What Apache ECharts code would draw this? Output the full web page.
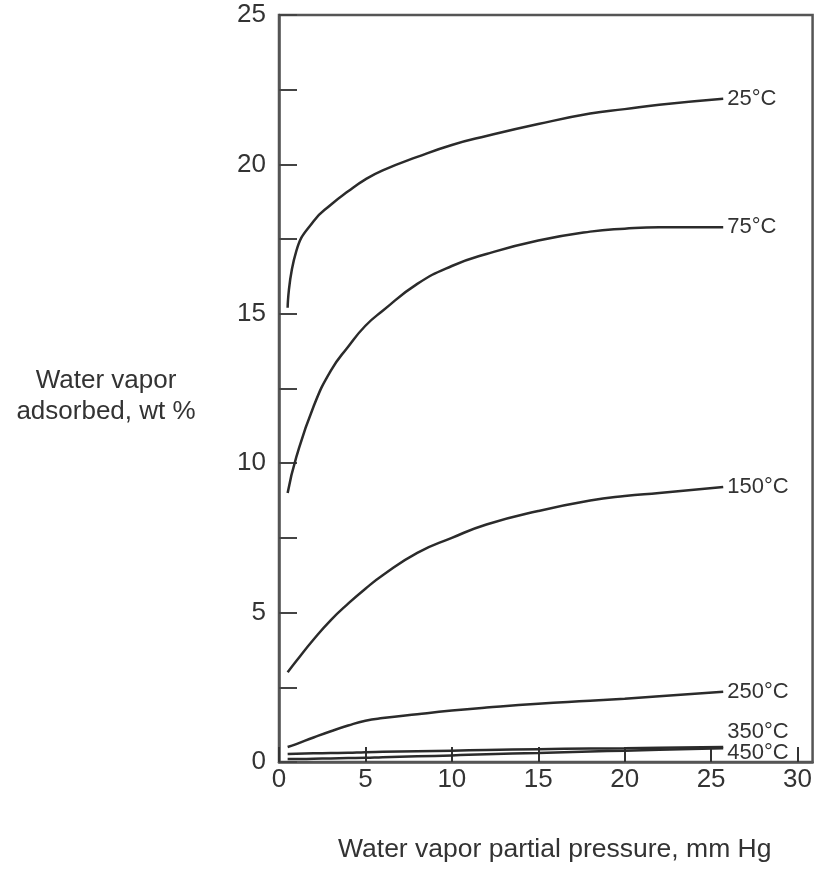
<!DOCTYPE html>
<html>
<head>
<meta charset="utf-8">
<title>Water vapor adsorption isotherms</title>
<script src="https://cdn.jsdelivr.net/npm/echarts@6/dist/echarts.min.js"></script>
<style>
  html, body { margin: 0; padding: 0; background: #fff; }
  #chart { width: 815px; height: 869px; }
</style>
</head>
<body>
<div id="chart"></div>
<script>
// Partial pressure of water vapor, mm Hg (shared x values for every isotherm)
const pressure = [0.5, 1, 2, 3, 4, 5, 6, 8, 10, 12, 15, 18, 20, 22, 25.7];

// Water vapor adsorbed, wt %, one isotherm per temperature
const adsorbed25 = [15.2, 17.1, 18.1, 18.65, 19.1, 19.5, 19.8, 20.25, 20.65, 20.95, 21.35, 21.7, 21.85, 22.0, 22.2];
const adsorbed75 = [9.0, 10.2, 11.9, 13.1, 13.9, 14.6, 15.1, 16.0, 16.6, 17.0, 17.45, 17.75, 17.85, 17.9, 17.9];
const adsorbed150 = [3.0, 3.38, 4.1, 4.75, 5.3, 5.8, 6.25, 7.0, 7.5, 7.95, 8.4, 8.75, 8.9, 9.0, 9.2];
const adsorbed250 = [0.5, 0.6, 0.82, 1.03, 1.22, 1.38, 1.47, 1.6, 1.72, 1.82, 1.95, 2.05, 2.12, 2.2, 2.35];
const adsorbed350 = [0.27, 0.28, 0.29, 0.3, 0.31, 0.33, 0.34, 0.36, 0.38, 0.4, 0.43, 0.45, 0.46, 0.48, 0.5];
const adsorbed450 = [0.1, 0.1, 0.11, 0.12, 0.13, 0.14, 0.16, 0.19, 0.22, 0.26, 0.3, 0.35, 0.38, 0.41, 0.46];

const curveLabels = ['25°C', '75°C', '150°C', '250°C', '350°C', '450°C'];
const curveValues = [adsorbed25, adsorbed75, adsorbed150, adsorbed250, adsorbed350, adsorbed450];
// vertical nudge of each end label, px
const labelShift = [0, 0, 0, 0, -15, 5];

const FONT = '"Liberation Sans", Arial, Helvetica, sans-serif';
const INK = '#2b2b2b';
const FRAME = '#555555';

const series = curveValues.map((vals, i) => ({
  type: 'line',
  name: curveLabels[i],
  data: pressure.map((p, k) => [p, vals[k]]),
  smooth: 0.5,
  showSymbol: false,
  symbol: 'none',
  lineStyle: { color: INK, width: 2.5 },
  z: 3,
  endLabel: {
    show: true,
    formatter: curveLabels[i],
    color: '#333',
    fontFamily: FONT,
    fontSize: 22,
    distance: 4,
    offset: [0, labelShift[i]]
  },
  emphasis: { disabled: true }
}));

const chart = echarts.init(document.getElementById('chart'), null, { renderer: 'canvas' });
chart.setOption({
  animation: false,
  backgroundColor: '#ffffff',
  grid: {
    left: 279, top: 15, right: 2, bottom: 107,
    show: true, borderColor: FRAME, borderWidth: 2.5, backgroundColor: 'transparent'
  },
  xAxis: {
    type: 'value',
    min: 0, max: 30.87, interval: 5,
    splitLine: { show: false },
    axisLine: { show: true, lineStyle: { color: FRAME, width: 2.5 } },
    axisTick: { show: true, inside: true, length: 15, lineStyle: { color: '#333', width: 2 } },
    axisLabel: {
      showMaxLabel: false, margin: 5,
      color: '#333', fontFamily: FONT, fontSize: 26
    }
  },
  yAxis: {
    type: 'value',
    min: 0, max: 25, interval: 2.5,
    splitLine: { show: false },
    axisLine: { show: true, lineStyle: { color: FRAME, width: 2.5 } },
    axisTick: { show: true, inside: true, length: 18, lineStyle: { color: '#444', width: 2 } },
    axisLabel: {
      margin: 13, color: '#333', fontFamily: FONT, fontSize: 26,
      formatter: v => (v % 5 === 0 ? String(v) : '')
    }
  },
  graphic: [
    {
      type: 'text', left: 338, top: 836,
      style: {
        text: 'Water vapor partial pressure, mm Hg',
        fill: '#333', font: '26.5px ' + FONT
      }
    },
    {
      type: 'text', x: 106, y: 396,
      style: {
        text: 'Water vapor\nadsorbed, wt %',
        fill: '#333', font: '26px ' + FONT,
        align: 'center', verticalAlign: 'middle', lineHeight: 31
      }
    }
  ],
  series: series
});
</script>
</body>
</html>
